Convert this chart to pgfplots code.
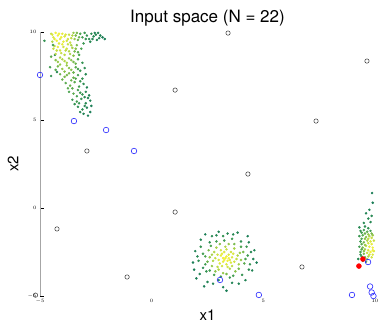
\documentclass[border=0pt]{standalone}
\usepackage{pgfplots}
\pgfplotsset{compat=1.18}
\usepackage{fontspec}
\setmainfont{TeX Gyre Heros}
\begin{document}
\begin{tikzpicture}
\path[use as bounding box] (0,0) rectangle (378pt,322pt);
\begin{axis}[
  at={(40pt,26pt)}, anchor=south west,
  scale only axis, width=335pt, height=264pt,
  xmin=-5, xmax=10, ymin=-5, ymax=10,
  clip=false,
  axis lines*=left,
  x axis line style={draw=none},
  y axis line style={draw=gray!70, line width=0.8pt},
  xtick={-5,0,5,10}, ytick={-5,0,5,10},
  tick label style={font=\fontsize{4}{4}\selectfont},
  xtick style={draw=none},
  ytick style={black, line width=0.4pt},
  major tick length=4pt,
  title={Input space (N = 22)},
  title style={font=\fontsize{17}{17}\selectfont, at={(axis description cs:0.5,1)}, anchor=south, yshift=-4pt},
  xlabel={x1}, ylabel={x2},
  xlabel style={font=\fontsize{15}{15}\selectfont, at={(axis description cs:0.5,0)}, anchor=north, yshift=-10pt},
  ylabel style={font=\fontsize{15}{15}\selectfont, at={(axis description cs:0,0.5)}, anchor=south, yshift=18pt},
  colormap={gy}{rgb255=(25,125,85) rgb255=(70,160,80) rgb255=(170,210,70) rgb255=(240,240,60)},
  point meta min=0, point meta max=1,
]
% cloud 1
\addplot[scatter, only marks, mark=*, mark size=1.05pt,
  scatter/use mapped color={draw=mapped color, fill=mapped color}, point meta=explicit]
  table[meta=c] {
x y c
-4.5 9.9 0.8
-4.4 9.7 0.9
-4.3 9.95 1.0
-4.2 9.8 1.0
-4.1 9.6 0.95
-4.0 9.9 0.95
-3.9 9.75 0.9
-3.8 9.5 0.85
-3.7 9.85 0.8
-3.6 9.65 0.75
-3.5 9.95 0.6
-3.4 9.8 0.5
-3.3 9.55 0.45
-3.2 9.9 0.35
-3.1 9.7 0.3
-3.0 9.95 0.25
-2.9 9.8 0.2
-2.8 9.6 0.15
-2.7 9.9 0.15
-2.6 9.75 0.1
-2.5 9.85 0.1
-2.4 9.95 0.05
-2.3 9.8 0.05
-2.2 9.7 0.0
-2.1 9.6 0.0
-2.45 9.55 0.05
-2.75 9.45 0.1
-3.05 9.35 0.25
-4.45 9.45 0.7
-4.35 9.2 0.75
-4.15 9.35 0.9
-3.95 9.15 0.85
-3.75 9.3 0.8
-3.55 9.1 0.65
-3.35 9.25 0.5
-3.15 9.05 0.35
-4.25 8.95 0.8
-4.05 8.8 0.8
-3.85 8.95 0.75
-3.65 8.75 0.65
-3.45 8.9 0.5
-3.25 8.7 0.35
-4.5 8.6 0.4
-4.3 8.4 0.55
-4.1 8.55 0.7
-3.9 8.35 0.7
-3.7 8.5 0.6
-3.5 8.3 0.5
-3.3 8.45 0.35
-3.1 8.25 0.2
-4.55 8.0 0.3
-4.2 8.05 0.5
-4.0 7.9 0.6
-3.8 8.1 0.6
-3.6 7.85 0.55
-3.4 8.0 0.4
-3.2 7.8 0.25
-3.0 7.95 0.15
-4.1 7.6 0.45
-3.9 7.45 0.5
-3.7 7.65 0.5
-3.5 7.4 0.45
-3.3 7.55 0.3
-3.1 7.35 0.2
-2.95 7.6 0.1
-4.5 7.5 0.2
-3.85 7.1 0.4
-3.65 6.95 0.45
-3.45 7.15 0.4
-3.25 6.9 0.3
-3.05 7.05 0.15
-2.9 6.85 0.05
-3.7 6.6 0.35
-3.5 6.5 0.4
-3.3 6.7 0.3
-3.1 6.45 0.2
-2.95 6.6 0.1
-2.8 6.4 0.05
-3.55 6.15 0.25
-3.35 6.05 0.3
-3.15 6.2 0.2
-2.95 5.95 0.1
-2.75 6.1 0.05
-3.3 5.75 0.15
-3.1 5.6 0.15
-2.9 5.7 0.05
-2.7 5.8 0.0
-3.05 5.35 0.05
-2.75 5.45 0.0
-4.33 8.7 0.1
-4.24 7.73 0.1
-4.42 9.26 0.3
-4.8 9.5 0.2
-4.45 9.85 0.9
-4.35 9.6 0.95
-4.25 9.5 1.0
-4.15 9.9 1.0
-4.05 9.7 1.0
-3.95 9.45 0.95
-3.85 9.85 0.9
-3.75 9.6 0.85
-3.65 9.4 0.8
-3.55 9.8 0.7
-3.45 9.6 0.6
-3.25 9.7 0.45
-3.35 9.95 0.5
-2.95 9.6 0.2
-2.65 9.6 0.1
-2.35 9.65 0.05
-2.55 9.95 0.05
-4.4 9.05 0.8
-4.2 9.15 0.95
-4.0 9.3 0.95
-3.8 9.05 0.85
-3.6 9.25 0.7
-3.4 9.05 0.55
-4.3 8.75 0.75
-4.1 8.95 0.85
-3.9 8.7 0.75
-3.7 8.9 0.7
-3.5 8.65 0.55
-3.3 8.85 0.4
-4.2 8.3 0.6
-4.0 8.45 0.7
-3.8 8.25 0.65
-3.6 8.4 0.55
-3.4 8.2 0.45
-4.3 7.85 0.4
-4.1 8.15 0.6
-3.9 7.75 0.55
-3.7 7.95 0.55
-3.5 7.7 0.45
-3.3 7.9 0.3
-4.0 7.3 0.45
-3.8 7.55 0.5
-3.6 7.25 0.45
-3.4 7.35 0.35
-3.2 7.2 0.25
-3.75 6.8 0.4
-3.55 6.8 0.4
-3.35 6.35 0.3
-3.2 6.55 0.25
-3.0 6.3 0.1
-3.45 5.9 0.2
-3.25 5.95 0.2
-3.0 5.8 0.1
-2.85 6.25 0.05
-3.2 5.45 0.1
-2.85 5.25 0.0
};
% cloud 2
\addplot[scatter, only marks, mark=*, mark size=1.05pt,
  scatter/use mapped color={draw=mapped color, fill=mapped color}, point meta=explicit]
  table[meta=c] {
x y c
3.3 -2.85 1
3.1 -2.7 0.95
3.5 -2.95 0.95
3.2 -3.05 0.95
3.45 -2.65 0.9
3.0 -2.95 0.9
3.6 -2.8 0.9
3.35 -3.2 0.9
3.25 -2.5 0.9
2.95 -2.65 0.85
3.7 -3.05 0.85
3.15 -3.3 0.85
3.55 -2.5 0.85
3.4 -3.0 1
3.2 -2.85 1
2.8 -2.5 0.7
2.75 -3.0 0.7
3.85 -2.7 0.7
3.9 -3.2 0.65
3.0 -3.5 0.7
3.5 -3.45 0.7
3.3 -2.2 0.7
2.9 -2.25 0.65
3.7 -2.3 0.65
2.6 -2.8 0.6
4.0 -2.95 0.6
3.2 -3.7 0.6
2.7 -3.3 0.6
3.75 -3.6 0.55
3.45 -2.05 0.6
2.55 -2.4 0.5
4.1 -2.5 0.5
2.3 -2.6 0.3
2.4 -3.2 0.3
2.2 -2.2 0.2
2.1 -3.0 0.15
4.3 -2.7 0.3
4.4 -3.2 0.2
4.25 -2.2 0.25
2.9 -1.9 0.3
3.6 -1.75 0.25
3.2 -1.6 0.2
2.6 -1.95 0.15
4.0 -1.9 0.15
2.8 -3.8 0.3
3.5 -3.95 0.25
3.0 -4.1 0.15
4.05 -3.8 0.2
2.45 -3.6 0.2
1.95 -2.45 0.05
1.9 -3.5 0.0
2.0 -4.0 0.0
2.5 -4.2 0.05
4.55 -2.9 0.05
4.6 -2.4 0.05
4.5 -3.55 0.05
3.9 -4.3 0.05
3.2 -4.5 0.0
3.85 -1.4 0.05
3.0 -1.35 0.05
2.4 -1.5 0.0
2.2 -1.8 0.05
4.3 -1.6 0.0
2.35 -4.45 0.0
4.2 -4.1 0.05
2.7 -1.6 0.1
3.4 -1.45 0.1
3.35 -2.75 1
3.25 -2.95 1
3.45 -2.85 1
3.15 -2.6 0.95
3.55 -3.1 0.9
3.05 -3.15 0.9
3.65 -2.6 0.9
3.4 -3.35 0.85
3.1 -2.4 0.85
2.85 -2.85 0.8
3.8 -2.9 0.8
3.6 -3.3 0.75
2.95 -3.35 0.75
3.35 -2.35 0.8
2.7 -2.65 0.65
3.95 -2.55 0.6
3.9 -3.45 0.5
2.85 -3.6 0.55
3.35 -3.75 0.5
3.05 -2.05 0.55
3.7 -2.05 0.5
2.5 -3.05 0.45
4.15 -3.15 0.4
2.4 -2.75 0.35
4.2 -2.9 0.35
2.65 -2.15 0.35
4.0 -2.2 0.35
2.6 -3.55 0.3
3.65 -3.85 0.3
3.1 -3.9 0.3
3.25 -1.85 0.3
2.3 -3.4 0.15
4.35 -3.5 0.15
2.05 -2.75 0.1
4.45 -2.5 0.1
2.75 -4.3 0.05
3.6 -4.25 0.05
2.9 -1.55 0.1
3.65 -1.5 0.1
1.85 -3.1 0.0
4.7 -3.1 0.0
2.15 -3.75 0.05
4.35 -1.95 0.05
3.35 -4.7 0.0
};
% cloud 3
\addplot[scatter, only marks, mark=*, mark size=1.05pt,
  scatter/use mapped color={draw=mapped color, fill=mapped color}, point meta=explicit]
  table[meta=c] {
x y c
9.35 -1.3 0.2
9.5 -1.25 0.3
9.65 -1.35 0.4
9.8 -1.3 0.3
9.3 -1.6 0.25
9.45 -1.55 0.4
9.6 -1.65 0.55
9.75 -1.6 0.7
9.9 -1.55 0.6
9.35 -1.9 0.3
9.5 -1.95 0.5
9.65 -1.85 0.7
9.8 -1.9 0.9
9.95 -1.85 0.8
9.3 -2.2 0.3
9.45 -2.25 0.5
9.6 -2.15 0.75
9.75 -2.2 0.95
9.9 -2.25 1
9.35 -2.5 0.35
9.5 -2.45 0.55
9.65 -2.55 0.8
9.8 -2.5 1
9.95 -2.45 0.9
9.4 -2.75 0.3
9.55 -2.8 0.5
9.7 -2.75 0.7
9.85 -2.8 0.85
9.45 -3.0 0.25
9.6 -3.05 0.4
9.25 -2.9 0.1
9.3 -1.1 0.1
9.55 -1.05 0.15
9.7 -1.15 0.2
9.6 -0.3 0.05
9.75 -0.1 0.05
9.9 0.3 0.0
9.87 0.85 0.0
9.7 -0.6 0.1
9.85 -0.45 0.1
9.4 -1.4 0.3
9.55 -1.45 0.45
9.7 -1.5 0.6
9.85 -1.45 0.5
9.4 -1.75 0.35
9.55 -1.75 0.55
9.7 -1.75 0.75
9.85 -1.7 0.8
9.4 -2.05 0.4
9.55 -2.1 0.6
9.7 -2.0 0.85
9.85 -2.05 0.95
9.4 -2.35 0.4
9.55 -2.35 0.65
9.7 -2.4 0.9
9.9 -2.4 1
9.5 -2.6 0.5
9.75 -2.65 0.85
9.9 -2.65 0.9
9.35 -2.65 0.25
9.65 -2.9 0.6
9.8 -0.8 0.1
9.5 -0.85 0.1
};
% black circles
\addplot[only marks, mark=o, mark size=2.2pt, mark options={draw=black!80, line width=0.5pt}] coordinates {
(3.42,9.94) (1.05,6.7) (9.64,8.35) (7.36,4.94) (-2.9,3.24) (4.31,1.93)
(1.05,-0.23) (-4.24,-1.19) (-1.1,-3.92) (6.73,-3.35) (-5.2,-4.95)
};
% blue circles
\addplot[only marks, mark=o, mark size=2.8pt, mark options={draw=blue!85, line width=0.6pt}] coordinates {
(-5,7.56) (-3.48,4.94) (-2.04,4.43) (-0.79,3.24) (3.06,-4.09) (4.8,-4.94)
(8.97,-4.94) (9.69,-3.07) (9.78,-4.46) (9.85,-4.8) (9.93,-5.0)
};
% red dots
\addplot[only marks, mark=*, mark size=2.5pt, mark options={fill=red, draw=red}] coordinates {
(9.46,-2.9) (9.28,-3.3)
};
\end{axis}
\end{tikzpicture}
\end{document}
